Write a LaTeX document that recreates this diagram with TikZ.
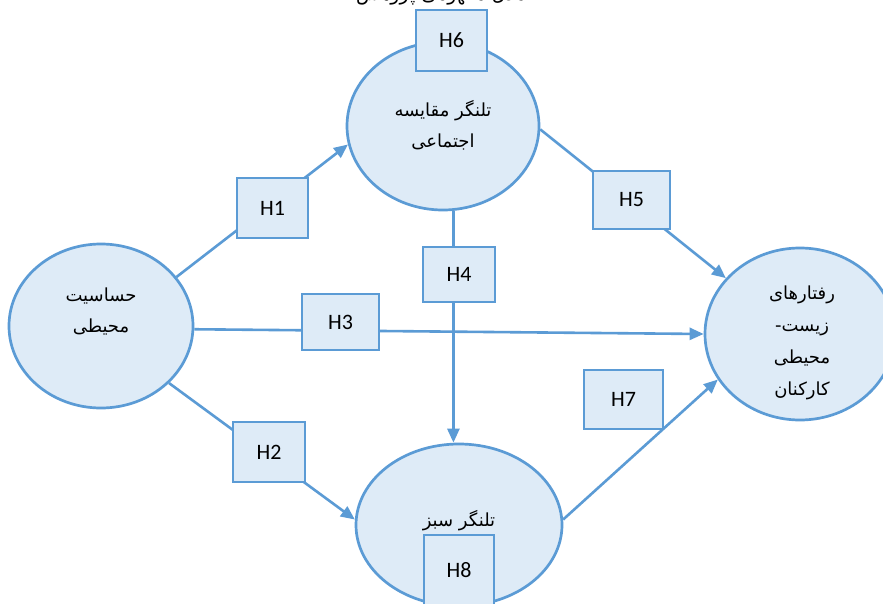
\documentclass[tikz,border=0pt]{standalone}
\usepackage{fontspec}
\usetikzlibrary{shapes.geometric,arrows.meta}
\setmainfont{Carlito}
\newfontfamily\fa[Script=Arabic]{DejaVu Sans}
\TeXXeTstate=1
\definecolor{bord}{HTML}{5B9BD5}
\definecolor{fillc}{HTML}{DEEBF7}
\tikzset{
  ell/.style={ellipse, draw=bord, fill=fillc, line width=2.7pt, inner sep=0pt},
  hbox/.style={rectangle, draw=bord, fill=fillc, line width=2.8pt, inner sep=0pt,
    font=\fontsize{22}{26}\selectfont, text=black},
  conn/.style={draw=bord, line width=2.6pt},
  arr/.style={conn, -{Triangle[length=14pt,width=12pt]}},
  fatext/.style={font=\fa\fontsize{18}{31}\selectfont, align=center, text=black, inner sep=0pt}
}
\begin{document}
\begin{tikzpicture}[x=1pt,y=-1pt]
\useasboundingbox (0,0) rectangle (883,604);
\fill[white] (0,0) rectangle (883,604);
% title (cropped at top, as in the reference)
\node[font=\fa\fontsize{19}{22}\selectfont, anchor=base, inner sep=0pt] (title) at (441,1) {\beginR مدل مفهومی پژوهش\endR};
% ellipses
\node[ell, minimum width=192pt, minimum height=168pt] (T) at (443,126) {};
\node[ell, minimum width=184pt, minimum height=164pt] (L) at (101,326) {};
\node[ell, minimum width=190pt, minimum height=172pt] (R) at (800,334) {};
\node[ell, minimum width=206pt, minimum height=162pt] (B) at (459,525) {};
% ellipse texts
\node[fatext] (tT) at (443,125) {\beginR تلنگر مقایسه\endR\\\beginR اجتماعی\endR};
\node[fatext] (tL) at (101,311) {\beginR حساسیت\endR\\\beginR محیطی\endR};
\node[fatext, font=\fa\fontsize{18}{32}\selectfont] (tR) at (802,343) {\beginR رفتارهای\endR\\\beginR زیست-\endR\\\beginR محیطی\endR\\\beginR کارکنان\endR};
\node[fatext] (tB) at (459,521) {\beginR تلنگر سبز\endR};
% connectors
\draw[arr] (L.33.5) -- (T.191);
\draw[arr] (L.-40) -- (B.177);
\draw[arr] (L.-2.4) -- (R.180);
\draw[arr] (T.-83) -- (T.-83 |- B.north);
\draw[arr] (T.-2.4) -- (R.143.5);
\draw[arr] (B.3) -- (R.209);
% hypothesis boxes
\node[hbox, minimum width=71pt, minimum height=61pt] (h6) at (451.5,40.5) {H6};
\node[hbox, minimum width=71pt, minimum height=60pt] (h1) at (272.5,208) {H1};
\node[hbox, minimum width=72pt, minimum height=55pt] (h4) at (459,274.5) {H4};
\node[hbox, minimum width=77pt, minimum height=56pt] (h3) at (340.5,322) {H3};
\node[hbox, minimum width=72pt, minimum height=60pt] (h2) at (269,452) {H2};
\node[hbox, minimum width=77pt, minimum height=58pt] (h5) at (631.5,200) {H5};
\node[hbox, minimum width=79pt, minimum height=59pt] (h7) at (623.5,399.5) {H7};
\node[hbox, minimum width=70pt, minimum height=70pt] (h8) at (459,570) {H8};
\end{tikzpicture}
\end{document}
